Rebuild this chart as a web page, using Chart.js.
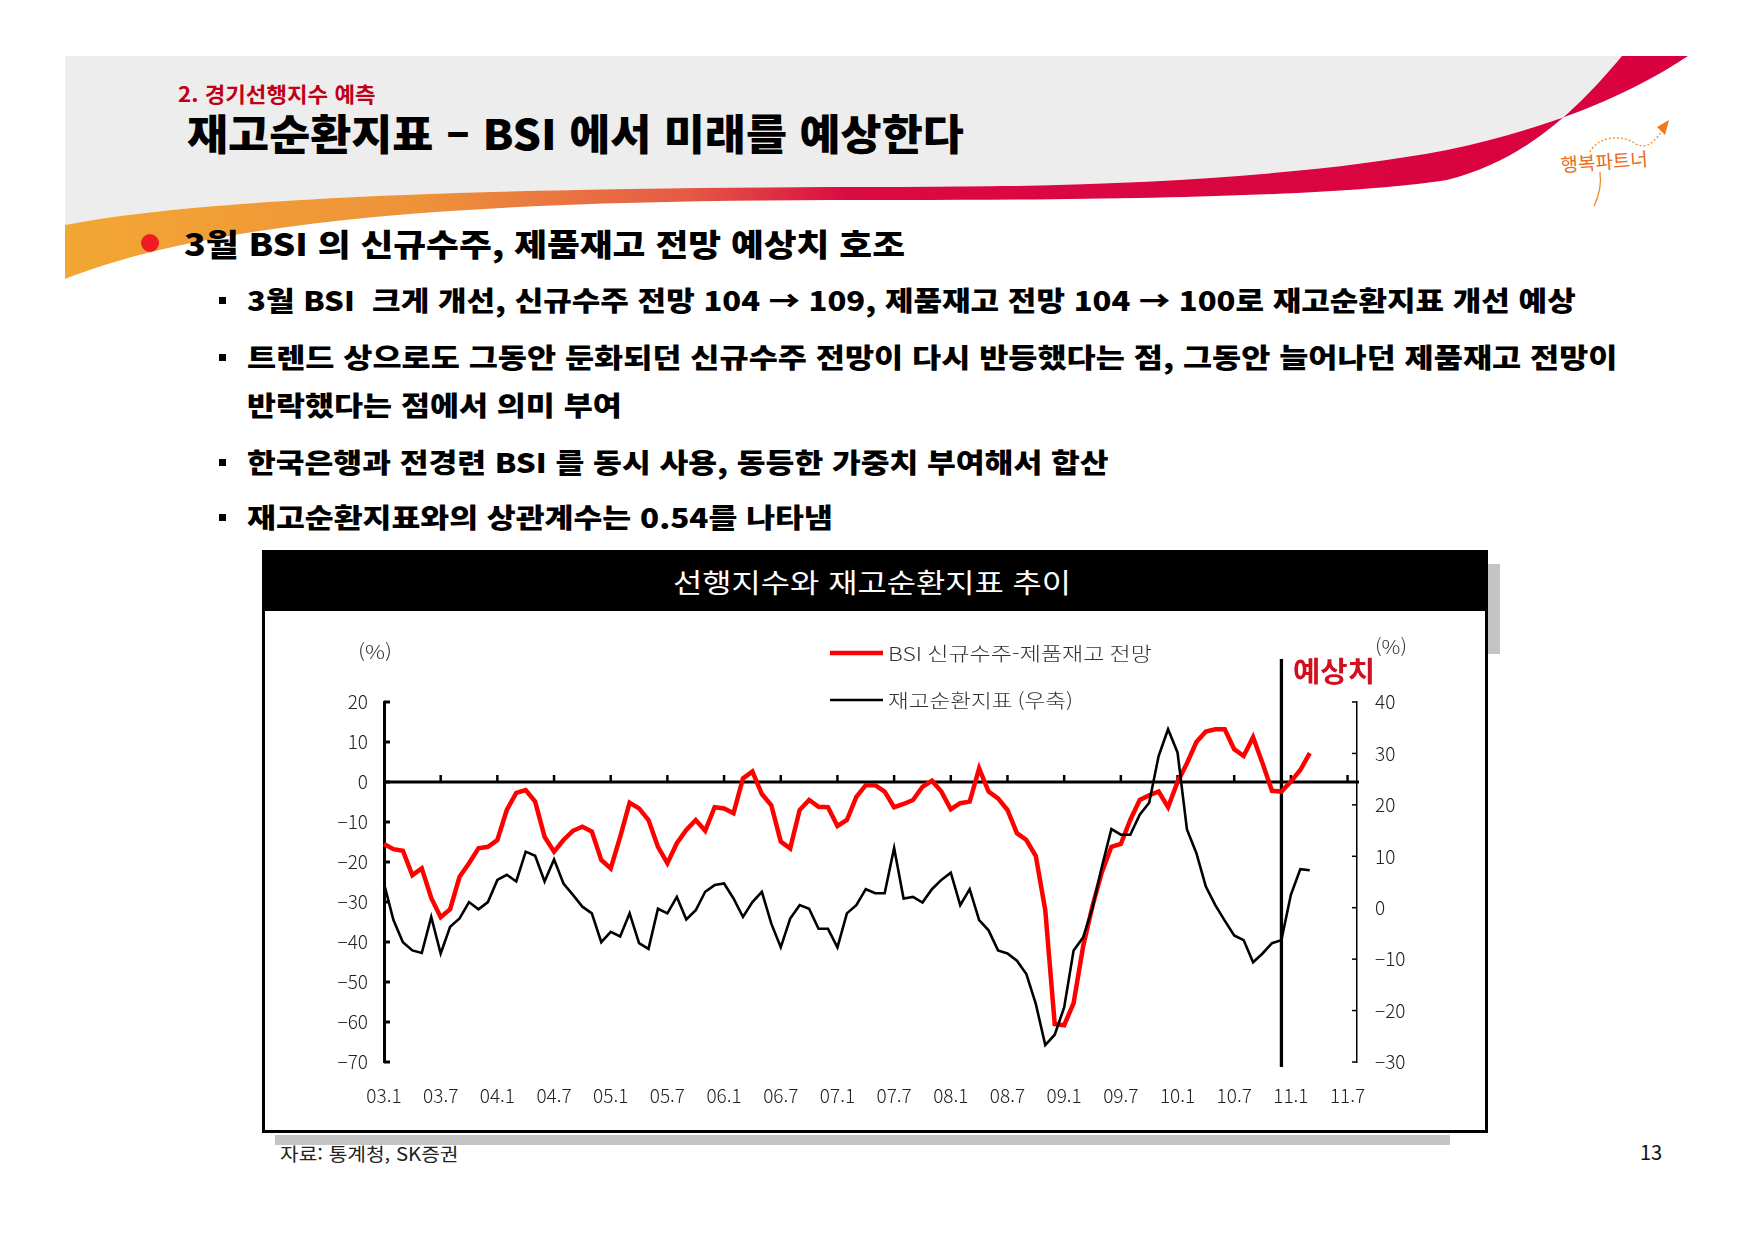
<!DOCTYPE html>
<html lang="ko">
<head>
<meta charset="utf-8">
<title>재고순환지표 - BSI</title>
<script src="https://cdn.jsdelivr.net/npm/chart.js@4.4.1/dist/chart.umd.min.js"></script>
<style>
  html, body { margin: 0; padding: 0; background: #fff; }
  #page { position: relative; width: 1754px; height: 1240px; overflow: hidden; font-family: "Noto Sans CJK KR", sans-serif; }
  .t { position: absolute; white-space: pre; line-height: 1; transform-origin: 0 50%; }
  .b { font-weight: 900; color: #000; }
  .sq { position: absolute; width: 7px; height: 7px; background: #000; }
  #box { position: absolute; left: 262px; top: 550px; width: 1226px; height: 583px; border: 3px solid #000; box-sizing: border-box; }
  #boxHead { position: absolute; left: 262px; top: 550px; width: 1226px; height: 61px; background: #000; }
  #chart { position: absolute; left: 265px; top: 611px; }
</style>
</head>
<body>
<div id="page">
  <svg width="1754" height="1240" style="position:absolute;left:0;top:0">
    <defs>
      <linearGradient id="sw" x1="65" y1="0" x2="1700" y2="0" gradientUnits="userSpaceOnUse">
        <stop offset="0" stop-color="#f2a733"/>
        <stop offset="0.22" stop-color="#ee923a"/>
        <stop offset="0.38" stop-color="#e55a45"/>
        <stop offset="0.48" stop-color="#da0a42"/>
        <stop offset="1" stop-color="#d9003f"/>
      </linearGradient>
    </defs>
    <path d="M65,56 L1688,56 C1630,95 1550,128 1447,150 C1300,178 1100,187 900,187 C500,187 200,198 65,225 Z" fill="#ededed"/>
    <path d="M65,225 C200,198 500,187 900,187 C1100,187 1300,178 1447,150 C1550,128 1630,95 1688,56 L1622,56 C1585,100 1530,160 1447,180 C1350,195 1150,200 900,200 C600,200 250,205 65,279 Z" fill="url(#sw)"/>
    <!-- logo -->
    <path d="M1590,152 C1598,136 1622,134 1636,144 C1648,150 1656,140 1664,128" fill="none" stroke="#f08a2a" stroke-width="1.3" stroke-dasharray="2 2"/>
    <path d="M1657,127 L1669,120 L1665,135 Z" fill="#f07a20"/>
    <path d="M1600,172 C1602,188 1598,198 1594,206" fill="none" stroke="#f08a2a" stroke-width="1.3"/>
    <text x="1561" y="172" font-family="Noto Sans CJK KR" font-size="19" fill="#ea6c1c" transform="rotate(-4 1561 172)">행복파트너</text>
  </svg>

  <div class="t b fit" data-w="198" style="left:178px;top:83px;font-size:21px;color:#c00018;font-weight:700;">2. 경기선행지수 예측</div>
  <div class="t b fit" data-w="777" style="left:187px;top:111px;font-size:42px;">재고순환지표 – BSI 에서 미래를 예상한다</div>

  <div style="position:absolute;left:141px;top:234px;width:18px;height:18px;border-radius:50%;background:#ee1c25;"></div>
  <div class="t b fit" data-w="721" style="left:184px;top:227px;font-size:31px;">3월 BSI 의 신규수주, 제품재고 전망 예상치 호조</div>

  <div class="sq" style="left:219px;top:297px;"></div>
  <div class="t b fit" data-w="1329" style="left:247px;top:286px;font-size:27px;">3월 BSI  크게 개선, 신규수주 전망 104 → 109, 제품재고 전망 104 → 100로 재고순환지표 개선 예상</div>
  <div class="sq" style="left:219px;top:354px;"></div>
  <div class="t b fit" data-w="1370" style="left:247px;top:343px;font-size:27px;">트렌드 상으로도 그동안 둔화되던 신규수주 전망이 다시 반등했다는 점, 그동안 늘어나던 제품재고 전망이</div>
  <div class="t b fit" data-w="375" style="left:247px;top:391px;font-size:27px;">반락했다는 점에서 의미 부여</div>
  <div class="sq" style="left:219px;top:459px;"></div>
  <div class="t b fit" data-w="861" style="left:247px;top:448px;font-size:27px;">한국은행과 전경련 BSI 를 동시 사용, 동등한 가중치 부여해서 합산</div>
  <div class="sq" style="left:219px;top:514px;"></div>
  <div class="t b fit" data-w="586" style="left:247px;top:503px;font-size:27px;">재고순환지표와의 상관계수는 0.54를 나타냄</div>

  <div style="position:absolute;left:1488px;top:564px;width:12px;height:90px;background:#c4c4c4;"></div>
  <div style="position:absolute;left:275px;top:1135px;width:1175px;height:10px;background:#c4c4c4;"></div>
  <div id="box"></div>
  <div id="boxHead"></div>
  <div class="t fit" data-w="398" style="left:673px;top:568px;font-size:27px;color:#fff;">선행지수와 재고순환지표 추이</div>
  <canvas id="chart" width="1220" height="519"></canvas>

  <div class="t fit" data-w="178" style="left:280px;top:1144px;font-size:18px;color:#222;">자료: 통계청, SK증권</div>
  <div class="t fit" data-w="22" style="left:1640px;top:1142px;font-size:20px;color:#111;">13</div>
</div>

<script>
// months 2003.01 .. 2011.08 (axis runs a little past 11.7)
const months = [];
for (let y = 2003; y <= 2011; y++) {
  for (let m = 1; m <= 12; m++) {
    if (y === 2011 && m > 8) break;
    months.push(String(y - 2000).padStart(2, "0") + "." + m);
  }
}

// BSI 신규수주-제품재고 전망 (left axis, %), 2003.01 .. 2011.03
const bsi = [
  -15.5, -16.8, -17.2, -23.3, -21.6, -29.0, -33.8, -31.8, -23.7, -20.3, -16.6, -16.2,
  -14.5, -7.0, -2.7, -2.0, -4.9, -13.7, -17.4, -14.5, -12.2, -11.2, -12.4, -19.5,
  -21.6, -13.7, -5.2, -6.6, -9.5, -16.2, -20.3, -15.3, -12.0, -9.5, -12.2, -6.3,
  -6.6, -7.8, 0.9, 2.6, -3.0, -5.8, -14.9, -16.6, -7.0, -4.5, -6.2, -6.3,
  -11.0, -9.5, -3.7, -0.8, -0.8, -2.4, -6.3, -5.5, -4.5, -1.2, 0.3, -2.4,
  -6.8, -5.3, -4.9, 3.4, -2.4, -4.1, -7.0, -12.8, -14.5, -18.5, -32.0, -60.5,
  -60.8, -55.3, -41.2, -31.0, -22.5, -16.2, -15.5, -9.5, -4.5, -3.3, -2.4, -6.3,
  0.0, 4.7, 10.0, 12.6, 13.2, 13.2, 8.2, 6.5, 11.2, 4.7, -2.2, -2.4,
  0.1, 3.0, 7.2
];

// 재고순환지표 (right axis, %), 2003.01 .. 2011.03
const inventory = [
  4.7, -2.4, -6.7, -8.3, -8.8, -1.8, -8.9, -3.7, -2.1, 1.1, -0.3, 1.1,
  5.4, 6.4, 5.1, 10.9, 10.1, 5.1, 9.4, 4.7, 2.5, 0.2, -1.1, -6.7,
  -4.7, -5.6, -1.1, -6.9, -8.0, -0.2, -1.1, 2.1, -2.3, -0.5, 3.1, 4.4,
  4.7, 1.8, -1.8, 1.1, 3.1, -3.1, -7.7, -2.1, 0.5, -0.2, -4.1, -4.1,
  -7.7, -1.1, 0.5, 3.6, 2.8, 2.8, 11.6, 1.8, 2.1, 1.0, 3.6, 5.4,
  6.8, 0.5, 3.6, -2.4, -4.4, -8.3, -8.9, -10.3, -12.9, -18.7, -26.7, -24.7,
  -19.4, -8.3, -5.8, 0.0, 8.0, 15.3, 14.2, 14.2, 18.1, 20.4, 29.5, 34.7,
  30.2, 15.2, 10.6, 4.1, 0.5, -2.5, -5.4, -6.3, -10.6, -8.9, -6.9, -6.3,
  2.5, 7.5, 7.3
];

const forecastFrom = "10.12";
const leftTicks = { min: -70, max: 20, step: 10 };
const rightTicks = { min: -30, max: 40, step: 10 };

function isLabelMonth(lbl) {
  const m = lbl.split(".")[1];
  return m === "1" || m === "7";
}
function fmt(v) {
  return v < 0 ? "\u2212" + Math.abs(v) : String(v);
}

function fitText() {
  document.querySelectorAll(".fit").forEach((el) => {
    const w = +el.dataset.w;
    const nat = el.offsetWidth;
    if (nat > 0) el.style.transform = "scaleX(" + (w / nat) + ")";
  });
}

function drawFit(ctx, text, x, y, w) {
  const nat = ctx.measureText(text).width;
  ctx.save();
  ctx.translate(x, y);
  ctx.scale(w / nat, 1);
  ctx.fillText(text, 0, 0);
  ctx.restore();
}

const FONT = '"Noto Sans CJK KR", sans-serif';

const decor = {
  id: "decor",
  beforeDatasetsDraw(chart) {
    const { ctx, chartArea: a, scales } = chart;
    const x = scales.x, yL = scales.yL, yR = scales.yR;
    ctx.save();
    ctx.strokeStyle = "#000";
    ctx.lineCap = "butt";

    // zero line with upward ticks
    const y0 = yL.getPixelForValue(0);
    ctx.lineWidth = 3;
    ctx.beginPath();
    ctx.moveTo(a.left, y0);
    ctx.lineTo(a.right + 2, y0);
    ctx.stroke();
    ctx.lineWidth = 2.5;
    months.forEach((lbl, i) => {
      if (i === 0 || !isLabelMonth(lbl)) return;
      const px = x.getPixelForValue(i);
      ctx.beginPath();
      ctx.moveTo(px, y0);
      ctx.lineTo(px, y0 - 7);
      ctx.stroke();
    });

    // inner ticks of left axis
    ctx.lineWidth = 3;
    yL.ticks.forEach((t) => {
      const py = yL.getPixelForValue(t.value);
      ctx.beginPath();
      ctx.moveTo(a.left, py);
      ctx.lineTo(a.left + 6, py);
      ctx.stroke();
    });
    // inner ticks of right axis
    ctx.lineWidth = 1.5;
    yR.ticks.forEach((t) => {
      const py = yR.getPixelForValue(t.value);
      ctx.beginPath();
      ctx.moveTo(a.right - 5, py);
      ctx.lineTo(a.right, py);
      ctx.stroke();
    });

    // forecast marker
    const fx = x.getPixelForValue(months.indexOf(forecastFrom));
    ctx.lineWidth = 3.3;
    ctx.beginPath();
    ctx.moveTo(fx, a.top - 43);
    ctx.lineTo(fx, a.bottom + 5);
    ctx.stroke();
    ctx.restore();
  },
  afterDraw(chart) {
    const { ctx, chartArea: a } = chart;
    ctx.save();
    ctx.textBaseline = "middle";

    // legend
    const legendRows = [
      { ds: chart.data.datasets[0], y: 42, w: 264 },
      { ds: chart.data.datasets[1], y: 89, w: 185 },
    ];
    legendRows.forEach((r) => {
      ctx.strokeStyle = r.ds.borderColor;
      ctx.lineWidth = r.ds.borderWidth;
      ctx.beginPath();
      ctx.moveTo(565, r.y);
      ctx.lineTo(618, r.y);
      ctx.stroke();
      ctx.fillStyle = "#333";
      ctx.font = "300 19px " + FONT;
      drawFit(ctx, r.ds.label, 623, r.y + 1, r.w);
    });

    // unit labels
    ctx.fillStyle = "#333";
    ctx.font = "300 19px " + FONT;
    ctx.textAlign = "left";
    drawFit(ctx, "(%)", a.left - 26, a.top - 50, 34);
    drawFit(ctx, "(%)", a.right + 18, a.top - 55, 32);

    // forecast label
    ctx.fillStyle = "#d0101e";
    ctx.font = "700 28px " + FONT;
    drawFit(ctx, "예상치", a.right - 64, a.top - 31, 82);
    ctx.restore();
  },
};

function tickFont() {
  return { family: FONT, size: 19, weight: "300" };
}

function buildChart() {
  const ctx = document.getElementById("chart").getContext("2d");
  new Chart(ctx, {
    type: "line",
    data: {
      labels: months,
      datasets: [
        {
          label: "BSI 신규수주-제품재고 전망",
          data: bsi,
          yAxisID: "yL",
          borderColor: "#ff0000",
          borderWidth: 4.5,
          pointRadius: 0,
          tension: 0,
          order: 2,
        },
        {
          label: "재고순환지표 (우축)",
          data: inventory,
          yAxisID: "yR",
          borderColor: "#000000",
          borderWidth: 2.6,
          pointRadius: 0,
          tension: 0,
          order: 1,
        },
      ],
    },
    options: {
      responsive: false,
      animation: false,
      events: [],
      layout: { padding: { top: 91, left: 0, right: 0, bottom: 0 } },
      plugins: {
        legend: { display: false },
        tooltip: { enabled: false },
        title: { display: false },
      },
      scales: {
        x: {
          type: "category",
          offset: false,
          grid: { display: false },
          border: { display: false },
          afterFit(s) { s.height = 68; },
          ticks: {
            autoSkip: false,
            maxRotation: 0,
            padding: 14,
            color: "#222",
            font: tickFont(),
            callback(v, i) {
              const lbl = months[i];
              return isLabelMonth(lbl) ? lbl : "";
            },
          },
        },
        yL: {
          position: "left",
          min: leftTicks.min,
          max: leftTicks.max,
          grid: { display: true, drawOnChartArea: false, drawTicks: false, color: "rgba(0,0,0,0)" },
          border: { display: true, color: "#000", width: 3 },
          afterFit(s) { s.width = 119; },
          ticks: {
            stepSize: leftTicks.step,
            padding: 16,
            color: "#222",
            font: tickFont(),
            callback: fmt,
          },
        },
        yR: {
          position: "right",
          min: rightTicks.min,
          max: rightTicks.max,
          grid: { display: true, drawOnChartArea: false, drawTicks: false, color: "rgba(0,0,0,0)" },
          border: { display: true, color: "#000", width: 1.5 },
          afterFit(s) { s.width = 128; },
          ticks: {
            stepSize: rightTicks.step,
            padding: 18,
            color: "#222",
            font: tickFont(),
            callback: fmt,
          },
        },
      },
    },
    plugins: [decor],
  });
}

fitText();
buildChart();
if (document.fonts && document.fonts.ready) {
  document.fonts.ready.then(fitText);
}
</script>
</body>
</html>
